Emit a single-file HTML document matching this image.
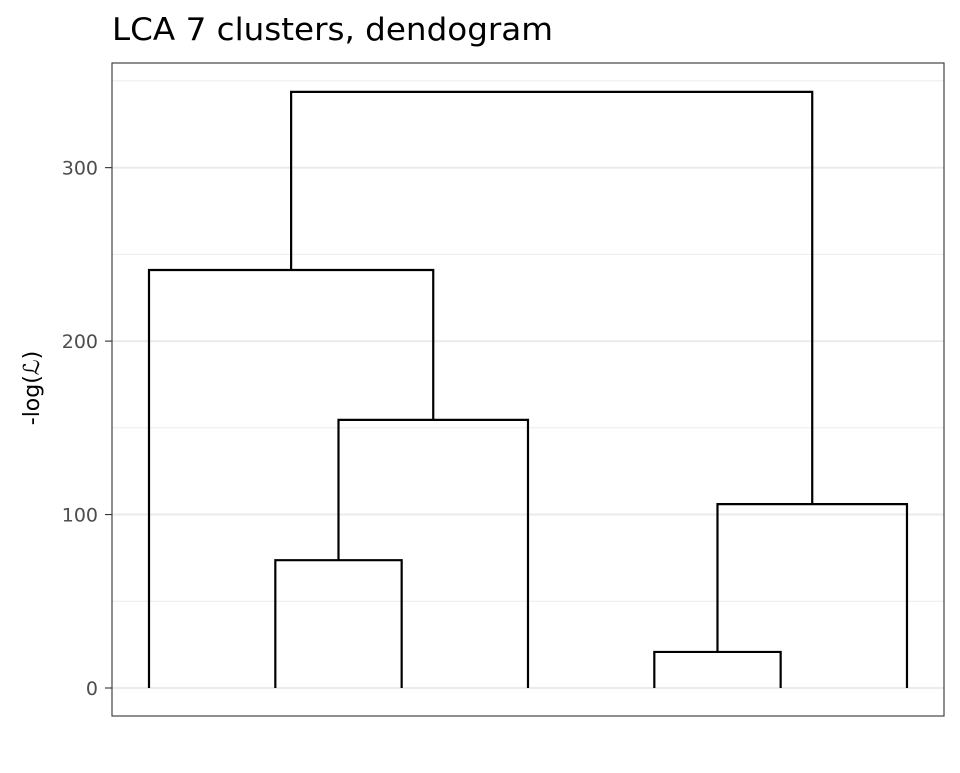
<!DOCTYPE html>
<html><head><meta charset="utf-8"><style>
body{margin:0;background:#fff;}
svg text{font-family:"DejaVu Sans","Liberation Sans",sans-serif;}
</style></head><body>
<svg id="chart" width="960" height="768">
<text x="112" y="40" font-size="31" textLength="441" lengthAdjust="spacingAndGlyphs" fill="#000">LCA 7 clusters, dendogram</text>
<g id="grid"></g>
<g id="links"></g>
<rect x="112" y="63" width="832" height="653" fill="none" stroke="#333" stroke-width="1.1"/>
<g id="yticks"></g>
<text transform="translate(39,388) rotate(-90)" text-anchor="middle" font-size="22" fill="#000">-log(ℒ)</text>
</svg>
<script>
const yTicks=[0,100,200,300];
const yMinor=[50,150,250,350];
const leaves=[1,2,3,4,5,6,7];
const mergeLeft=[2,5,2.5,1,5.5,2.125];
const mergeRight=[3,6,4,3.25,7,6.25];
const childHLeft=[0,0,73.7,0,20.8,241];
const childHRight=[0,0,0,154.6,0,106];
const mergeH=[73.7,20.8,154.6,241,106,343.7];
const X=v=>149+(v-1)*126.33;
const Y=v=>688-v*1.7345;
const ns="http://www.w3.org/2000/svg";
const grid=document.getElementById('grid'),links=document.getElementById('links'),yt=document.getElementById('yticks');
function mk(tag,attrs,parent){const e=document.createElementNS(ns,tag);for(const k in attrs)e.setAttribute(k,attrs[k]);parent.appendChild(e);return e;}
yMinor.forEach(v=>{const l=mk('line',{x1:112,x2:944,y1:Y(v),y2:Y(v),stroke:'#ebebeb','stroke-width':1},grid);

});
yTicks.forEach(v=>{const l=mk('line',{x1:112,x2:944,y1:Y(v),y2:Y(v),stroke:'#ebebeb','stroke-width':2},grid);


const t=mk('line',{x1:105,x2:112,y1:Y(v),y2:Y(v),stroke:'#333','stroke-width':1.1},yt);


const tx=mk('text',{x:98,y:Y(v)+7,'text-anchor':'end','font-size':19,fill:'#4d4d4d'},yt);
tx.textContent=v;

});
mergeH.forEach((h,i)=>{const xl=X(mergeLeft[i]),xr=X(mergeRight[i]);
const p=mk('path',{d:`M${xl},${Y(childHLeft[i])}V${Y(h)}H${xr}V${Y(childHRight[i])}`,fill:'none',stroke:'#000','stroke-width':2.2},links);

});
</script>
</body></html>
